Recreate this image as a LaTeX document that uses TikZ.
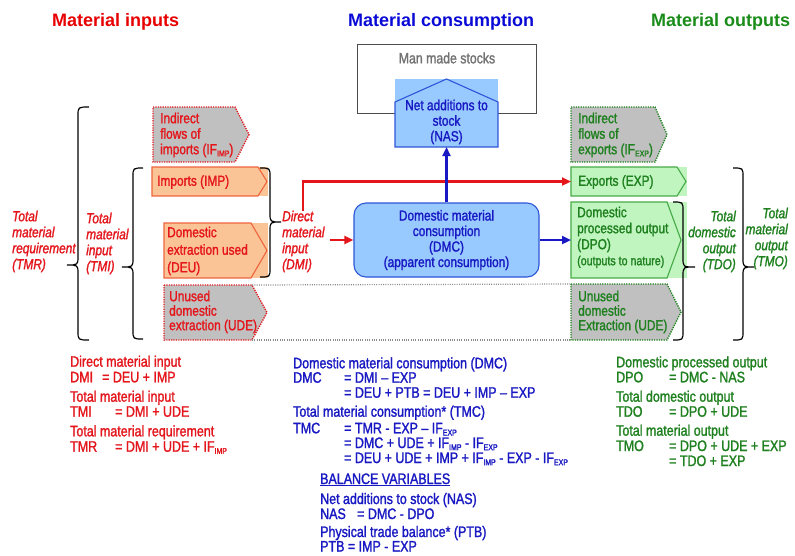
\documentclass[tikz,border=0pt]{standalone}
\usepackage{fontspec}
\setmainfont{Liberation Sans}
\newfontfamily\narrowfont{Liberation Sans}[FakeStretch=0.82, FakeBold=1.5]
\usetikzlibrary{arrows.meta}

\definecolor{tred}{RGB}{228,22,28}
\definecolor{tblue}{RGB}{25,25,195}
\definecolor{tgreen}{RGB}{30,128,30}
\definecolor{hred}{RGB}{232,0,0}
\definecolor{hblue}{RGB}{10,10,215}
\definecolor{hgreen}{RGB}{25,140,25}
\definecolor{orfill}{RGB}{251,196,150}
\definecolor{orline}{RGB}{238,100,60}
\definecolor{bluefill}{RGB}{153,202,255}
\definecolor{blueline}{RGB}{45,85,215}
\definecolor{grnfill}{RGB}{192,245,192}
\definecolor{grnline}{RGB}{70,170,70}
\definecolor{grayfill}{RGB}{192,192,192}
\definecolor{dotgray}{RGB}{140,140,140}
\definecolor{stockgray}{RGB}{115,115,115}

% small lowered index, as in IF with IMP / EXP
\newcommand\lowidx[1]{\raisebox{-2.2pt}{\fontsize{8.5}{8.5}\selectfont #1}}

% curly brace: end x, spine x, tip x, top y, tip y, bottom y
\newcommand\drawcurly[6]{%
  \draw[curly] (#1,#4) .. controls (#2,#4) .. (#2,{#4+9}) -- (#2,{#5-9})
    .. controls (#2,#5) .. (#3,#5) .. controls (#2,#5) .. (#2,{#5+9})
    -- (#2,{#6-9}) .. controls (#2,#6) .. (#1,#6);}

% arrow shaped outline round a box node: style, node, shoulder inset, tip inset
\newcommand\pentout[4]{%
  \draw[#1] (#2.north west) -- ([xshift=-#3pt]#2.north east)
    -- ([xshift=-#4pt]#2.east) -- ([xshift=-#3pt]#2.south east)
    -- (#2.south west) -- cycle;}

\tikzset{
  slot/.style={inner sep=0pt, outer sep=0pt, anchor=north west},
  curly/.style={black, line width=1.2pt},
  orout/.style={draw=orline, line width=1.1pt},
  grnout/.style={draw=grnline, line width=1.1pt},
  redgray/.style={fill=grayfill, draw=tred, line width=1.4pt, dash pattern=on 1.2pt off 1.2pt},
  grngray/.style={fill=grayfill, draw=tgreen, line width=1.4pt, dash pattern=on 1.2pt off 1.2pt},
  boxtxt/.style={inner sep=0pt, anchor=north west, align=left,
    font=\narrowfont\fontsize{14.5}{15.5}\selectfont},
  lbl/.style={inner sep=0pt, anchor=north west, align=left,
    font=\narrowfont\itshape\fontsize{14.5}{16}\selectfont},
  eqtxt/.style={inner sep=0pt, anchor=base west,
    font=\narrowfont\fontsize{15.2}{17}\selectfont},
  head/.style={inner sep=0pt, anchor=base west,
    font=\bfseries\fontsize{18}{20}\selectfont},
  flowred/.style={draw=tred, line width=2.2pt, -{Triangle[length=9pt,width=8pt]}},
  flowblue/.style={draw=tblue, line width=2.2pt, -{Triangle[length=9pt,width=8pt]}},
  dotline/.style={draw=dotgray, line width=1.2pt, dash pattern=on 1pt off 1.3pt}
}

\begin{document}
\begin{tikzpicture}[x=1pt,y=-1pt]
\useasboundingbox[fill=white] (0,0) rectangle (795,555);

% headings
\node[head, text=hred] (h1) at (52,26) {Material inputs};
\node[head, text=hblue] (h2) at (348,26) {Material consumption};
\node[head, text=hgreen] (h3) at (651,26) {Material outputs};

% man made stocks and net additions
\node[slot, draw=black!70, line width=1pt, minimum width=179pt, minimum height=69pt] (mms) at (357,44) {};
\node[inner sep=0pt, text=stockgray, font=\narrowfont\fontsize{15}{15.5}\selectfont] (mmst) at (447,58) {Man made stocks};
\node[slot, fill=bluefill, minimum width=103pt, minimum height=68pt] (nas) at (395,79) {};
\draw[draw=blueline, line width=1.1pt] (nas.south west) -- ([yshift=-23pt]nas.north west) -- (nas.north)
  -- ([yshift=-23pt]nas.north east) -- (nas.south east) -- cycle;
\node[boxtxt, anchor=north, align=center, text=tblue] (nast) at (446.5,99.5) {Net additions to\\stock\\(NAS)};

% domestic material consumption
\node[rounded corners=12pt, fill=bluefill, draw=blueline, line width=1.1pt,
  minimum width=185pt, minimum height=74pt, inner sep=0pt, align=center, text=tblue,
  font=\narrowfont\fontsize{14.5}{15.5}\selectfont] (dmc) at (446.5,240)
  {Domestic material\\consumption\\(DMC)\\(apparent consumption)};

% input side boxes
\node[slot, minimum width=96pt, minimum height=55pt] (ifimp) at (153,107) {};
\pentout{redgray}{ifimp}{14}{0}
\node[boxtxt, text=tred] (ifimpt) at (160,112.5) {Indirect\\flows of\\imports (IF\lowidx{IMP})};

\node[slot, fill=orfill, minimum width=116pt, minimum height=29pt] (imp) at (152,167) {};
\pentout{orout}{imp}{10}{1}
\node[boxtxt, anchor=west, text=tred] (impt) at (157,182) {Imports (IMP)};

\node[slot, fill=orfill, minimum width=104pt, minimum height=55pt] (deu) at (164,223) {};
\pentout{orout}{deu}{17}{1}
\node[boxtxt, text=tred, font=\narrowfont\fontsize{14.5}{17.5}\selectfont] (deut) at (167,226.5) {Domestic\\extraction used\\(DEU)};

\node[slot, minimum width=103pt, minimum height=55pt] (udel) at (164,285) {};
\pentout{redgray}{udel}{15}{0}
\node[boxtxt, text=tred, font=\narrowfont\fontsize{14.5}{14.5}\selectfont] (udelt) at (169,290.5) {Unused\\domestic\\extraction (UDE)};

% output side boxes
\node[slot, minimum width=96pt, minimum height=55pt] (ifexp) at (571,107) {};
\pentout{grngray}{ifexp}{12}{0}
\node[boxtxt, text=tgreen] (ifexpt) at (578,112.5) {Indirect\\flows of\\exports (IF\lowidx{EXP})};

\node[slot, fill=grnfill, minimum width=116pt, minimum height=29pt] (exp) at (571,167) {};
\pentout{grnout}{exp}{10}{1}
\node[boxtxt, anchor=west, text=tgreen] (expt) at (578,182) {Exports (EXP)};

\node[slot, fill=grnfill, minimum width=116pt, minimum height=76pt] (dpo) at (571,202) {};
\pentout{grnout}{dpo}{20}{6}
\node[boxtxt, text=tgreen, font=\narrowfont\fontsize{14.5}{16}\selectfont] (dpot) at (577,206.5)
  {Domestic\\processed output\\(DPO)\\{\fontsize{13}{16}\selectfont(outputs to nature)}};

\node[slot, minimum width=110pt, minimum height=56pt] (uder) at (571,284) {};
\pentout{grngray}{uder}{14}{0}
\node[boxtxt, text=tgreen, font=\narrowfont\fontsize{14.5}{14.5}\selectfont] (udert) at (578,290.5) {Unused\\domestic\\Extraction (UDE)};

% unused extraction passes by the economy
\draw[dotline] ([xshift=-15pt]udel.north east) -- (uder.north west);
\draw[dotline] ([xshift=-15pt]udel.south east) -- (uder.south west);

% brace labels
\node[lbl, text=tred] (tmrl) at (12,210.5) {Total\\material\\requirement\\(TMR)};
\node[lbl, text=tred] (tmil) at (86,212.5) {Total\\material\\input\\(TMI)};
\node[lbl, text=tred] (dmil) at (282,210.5) {Direct\\material\\input\\(DMI)};
\node[lbl, anchor=north east, align=right, text=tgreen] (tdol) at (736,210.5) {Total\\domestic\\output\\(TDO)};
\node[lbl, anchor=north east, align=right, text=tgreen] (tmol) at (788,207.5) {Total\\material\\output\\(TMO)};

% braces
\drawcurly{89}{78}{67}{107}{265}{340}
\drawcurly{143}{133}{122}{168}{267}{339}
\drawcurly{260}{270}{281}{168}{222}{277}
\drawcurly{673}{683}{695}{202}{267}{340}
\drawcurly{733}{743}{754}{168}{267}{340}

% flows
\draw[flowred] (dmil.north) |- (exp.west);
\draw[flowred] ([xshift=5pt]dmil.east |- dmc.west) -- (dmc.west);
\draw[flowblue] (dmc.north) -- (nas.south);
\draw[flowblue] (dmc.east) -- (dpo.west);

% input indicators
\node[eqtxt, text=tred] (e1) at (70,366.7) {Direct material input};
\node[eqtxt, text=tred] (e2) at (70,382.3) {\makebox[32pt][l]{DMI}= DEU + IMP};
\node[eqtxt, text=tred] (e3) at (70,401.7) {Total material input};
\node[eqtxt, text=tred] (e4) at (70,416.7) {\makebox[45pt][l]{TMI}= DMI + UDE};
\node[eqtxt, text=tred] (e5) at (70,436.3) {Total material requirement};
\node[eqtxt, text=tred] (e6) at (70,451.7) {\makebox[45pt][l]{TMR}= DMI + UDE + IF\lowidx{IMP}};

% consumption indicators
\node[eqtxt, text=tblue] (c1) at (293,368.3) {Domestic material consumption (DMC)};
\node[eqtxt, text=tblue] (c2) at (293,382.7) {\makebox[51pt][l]{DMC}= DMI – EXP};
\node[eqtxt, text=tblue] (c3) at (344,397.7) {= DEU + PTB = DEU + IMP – EXP};
\node[eqtxt, text=tblue] (c4) at (293,416.7) {Total material consumption* (TMC)};
\node[eqtxt, text=tblue] (c5) at (293,433.3) {\makebox[51pt][l]{TMC}= TMR - EXP – IF\lowidx{EXP}};
\node[eqtxt, text=tblue] (c6) at (344,448) {= DMC + UDE + IF\lowidx{IMP} - IF\lowidx{EXP}};
\node[eqtxt, text=tblue] (c7) at (344,463) {= DEU + UDE + IMP + IF\lowidx{IMP} - EXP - IF\lowidx{EXP}};
\node[eqtxt, text=tblue] (c8) at (320,484) {\underline{BALANCE VARIABLES}};
\node[eqtxt, text=tblue] (c9) at (320,504) {Net additions to stock (NAS)};
\node[eqtxt, text=tblue] (c10) at (320,519) {\makebox[37pt][l]{NAS}= DMC - DPO};
\node[eqtxt, text=tblue] (c11) at (320,537) {Physical trade balance* (PTB)};
\node[eqtxt, text=tblue] (c12) at (320,551.5) {PTB = IMP - EXP};

% output indicators
\node[eqtxt, text=tgreen] (o1) at (616,367.3) {Domestic processed output};
\node[eqtxt, text=tgreen] (o2) at (616,382.3) {\makebox[53pt][l]{DPO}= DMC - NAS};
\node[eqtxt, text=tgreen] (o3) at (616,401.7) {Total domestic output};
\node[eqtxt, text=tgreen] (o4) at (616,416.7) {\makebox[53pt][l]{TDO}= DPO + UDE};
\node[eqtxt, text=tgreen] (o5) at (616,435.7) {Total material output};
\node[eqtxt, text=tgreen] (o6) at (616,451) {\makebox[53pt][l]{TMO}= DPO + UDE + EXP};
\node[eqtxt, text=tgreen] (o7) at (669,466) {= TDO + EXP};
\end{tikzpicture}
\end{document}
